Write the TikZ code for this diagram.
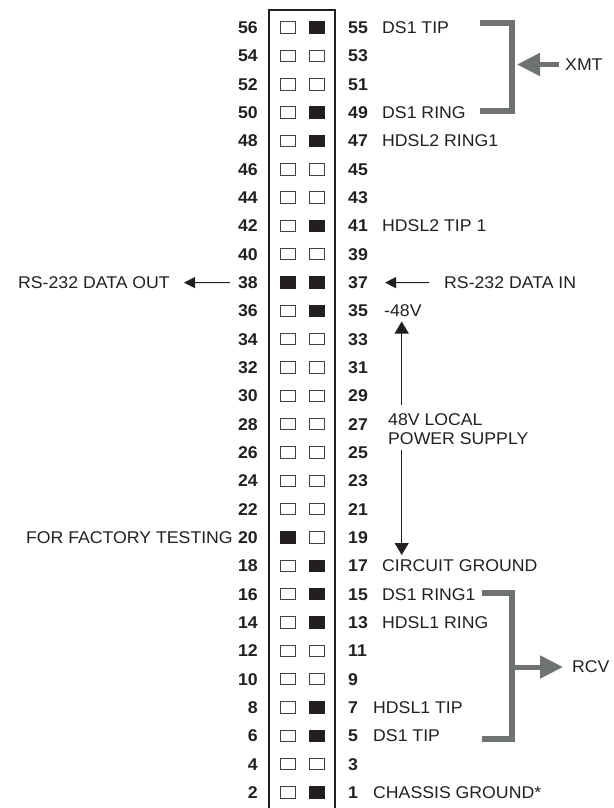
\documentclass[tikz,border=0pt]{standalone}
\usepackage{fontspec}
\setmainfont{Liberation Sans}[FakeStretch=1.04]
\usetikzlibrary{arrows.meta}
\definecolor{ink}{HTML}{231F20}
\definecolor{brk}{HTML}{6E7272}
\begin{document}
\begin{tikzpicture}[x=1pt,y=-1pt,
  txt/.style={font=\fontsize{17}{19}\selectfont, inner sep=0pt, text=ink},
  num/.style={font=\fontsize{17}{19}\selectfont\bfseries, inner sep=0pt, text=ink},
  sqF/.style={draw=ink, fill=ink, line width=0.8pt, minimum width=15pt, minimum height=11.5pt, inner sep=0pt},
  sqE/.style={draw=ink!85, fill=white, line width=0.8pt, minimum width=15pt, minimum height=11.5pt, inner sep=0pt},
  thinarrow/.style={draw=ink, line width=0.9pt, -{Triangle[length=11pt,width=11pt]}},
  vertarrow/.style={draw=ink, line width=0.9pt, -{Triangle[length=12pt,width=14pt]}},
  bracket/.style={draw=brk, line width=6pt},
  fatarrow/.style={draw=brk, line width=5pt, -{Triangle[length=23pt,width=22pt]}}
]
\useasboundingbox (0,0) rectangle (613,808);

% header box
\draw[ink, line width=2pt] (269.3,808) -- (269.3,10) -- (335,10) -- (335,808);

% rows
\foreach \k/\lf/\rt in {0/E/F,1/E/E,2/E/E,3/E/F,4/E/F,5/E/E,6/E/E,7/E/F,8/E/E,9/F/F,
  10/E/F,11/E/E,12/E/E,13/E/E,14/E/E,15/E/E,16/E/E,17/E/E,18/F/E,19/E/F,
  20/E/F,21/E/F,22/E/E,23/E/E,24/E/F,25/E/F,26/E/E,27/E/F}{
  \pgfmathsetmacro\yy{27.5+28.33*\k}
  \pgfmathtruncatemacro\ev{56-2*\k}
  \pgfmathtruncatemacro\od{55-2*\k}
  \node[num, anchor=base east] (e\ev) at (258,\yy+6) {\ev};
  \node[num, anchor=base west] (o\od) at (348,\yy+6) {\od};
  \node[sq\lf] (L\ev) at (287.7,\yy) {};
  \node[sq\rt] (R\ev) at (316.7,\yy) {};
}

% right-hand labels
\node[txt, anchor=base west] (t55) at (382,0 |- o55.base) {DS1 TIP};
\node[txt, anchor=base west] (t49) at (382,0 |- o49.base) {DS1 RING};
\node[txt, anchor=base west] (t47) at (382,0 |- o47.base) {HDSL2 RING1};
\node[txt, anchor=base west] (t41) at (382,0 |- o41.base) {HDSL2 TIP 1};
\node[txt, anchor=base west] (rsin) at (444,0 |- o37.base) {RS-232 DATA IN};
\node[txt, anchor=base west] (t35) at (384,0 |- o35.base) {-48V};
\node[txt, anchor=base west] (t17) at (382,0 |- o17.base) {CIRCUIT GROUND};
\node[txt, anchor=base west] (t15) at (382,0 |- o15.base) {DS1 RING1};
\node[txt, anchor=base west] (t13) at (382,0 |- o13.base) {HDSL1 RING};
\node[txt, anchor=base west] (t7) at (373,0 |- o7.base) {HDSL1 TIP};
\node[txt, anchor=base west] (t5) at (373,0 |- o5.base) {DS1 TIP};
\node[txt, anchor=base west] (t1) at (373,0 |- o1.base) {CHASSIS GROUND*};

% left-hand labels
\node[txt, anchor=base east] (rsout) at (170,0 |- e38.base) {RS-232 DATA OUT};
\node[txt, anchor=base east] (fft) at ([xshift=-5pt]e20.base west) {FOR FACTORY TESTING};

% RS-232 arrows
\draw[thinarrow] ([xshift=-8pt]e38.west) -- ([xshift=14pt]rsout.east);
\draw[thinarrow] ([xshift=-15pt]rsin.west) -- ([xshift=17pt]o37.east);

% 48V local power supply
\node[txt, anchor=base west] (pw1) at (388,425) {48V LOCAL};
\node[txt, anchor=base west] (pw2) at (388,444) {POWER SUPPLY};
\coordinate (vtop) at (401.7,321.5);
\coordinate (vmid1) at (401.7,405);
\coordinate (vmid2) at (401.7,450);
\coordinate (vbot) at (401.7,555);
\draw[vertarrow] (vmid1) -- (vtop);
\draw[vertarrow] (vmid2) -- (vbot);

% XMT bracket
\node[txt, anchor=west] (xmt) at (565,64.5) {XMT};
\draw[bracket] (480,23.5) -- (511.5,23.5) -- (511.5,110.5) -- (480,110.5);
\coordinate (xmttip) at (517,64.5);
\draw[fatarrow] ([xshift=-6pt]xmt.west) -- (xmttip);

% RCV bracket
\node[txt, anchor=west] (rcv) at (572,667) {RCV};
\draw[bracket] (482,593) -- (511.5,593) -- (511.5,739) -- (482,739);
\coordinate (rcvtail) at (514.5,667);
\draw[fatarrow] (rcvtail) -- ([xshift=-9pt]rcv.west);
\end{tikzpicture}
\end{document}
